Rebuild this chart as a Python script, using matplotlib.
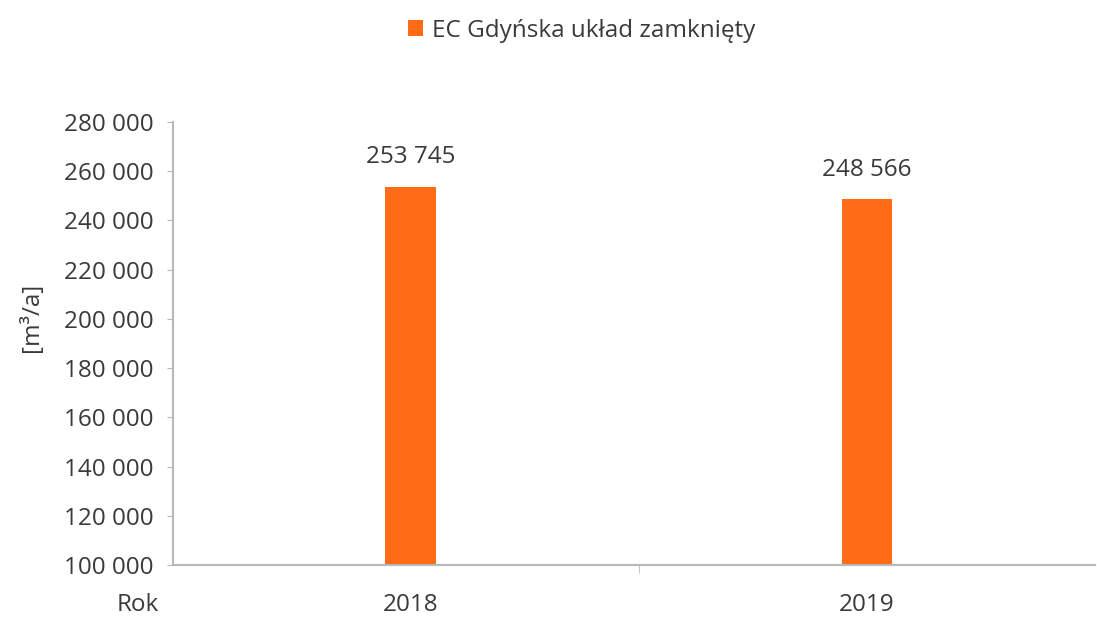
import matplotlib
matplotlib.use("Agg")
import matplotlib.pyplot as plt
from matplotlib.patches import Patch
from matplotlib.ticker import FuncFormatter

plt.rcParams['font.family'] = ['Open Sans', 'DejaVu Sans']

years = ["2018", "2019"]
values = [253745, 248566]
series_name = "EC Gdyńska układ zamknięty"
y_ticks = list(range(100000, 280001, 20000))

bar_color = "#FF6B17"
text_color = "#3a3a3a"
axis_color = "#b8b8b8"
fs = 17.5

fig = plt.figure(figsize=(10.97, 6.2), dpi=100)
ax = fig.add_axes([0.158, 0.0887, 0.84, 0.7145])

x = range(len(years))
bars = ax.bar(x, values, width=0.11, color=bar_color, zorder=2)

for xi, v in zip(x, values):
    ax.text(xi, v + 7000, f"{v:,}".replace(",", " "), ha="center", va="bottom",
            fontsize=fs, color=text_color)

ax.set_ylim(100000, 280000)
ax.set_xlim(-0.52, 1.5)
ax.set_yticks(y_ticks)
ax.yaxis.set_major_formatter(FuncFormatter(lambda v, p: f"{int(v):,}".replace(",", " ")))
ax.set_xticks(list(x))
ax.set_xticklabels(years)
ax.set_xticks([0.5], minor=True)

for s in ["top", "right"]:
    ax.spines[s].set_visible(False)
for s in ["left", "bottom"]:
    ax.spines[s].set_color(axis_color)
    ax.spines[s].set_linewidth(1.5)

ax.tick_params(axis="y", colors=axis_color, labelcolor=text_color, labelsize=fs,
               length=4, pad=10)
ax.tick_params(axis="x", which="major", length=0, labelcolor=text_color,
               labelsize=fs, pad=20)
ax.tick_params(axis="x", which="minor", length=6, direction="out", colors=axis_color)

ax.set_ylabel("[m³/a]", fontsize=fs, color=text_color)
ax.yaxis.set_label_coords(-0.14, 0.56)

fig.text(0.145, 1 - 605 / 620, "Rok", fontsize=fs, color=text_color, ha="right", va="center")

handles = [Patch(facecolor=bar_color, label=series_name)]
fig.legend(handles=handles, loc="upper center", bbox_to_anchor=(0.53, 1.005),
           frameon=False, fontsize=fs, handlelength=0.65, handleheight=0.65,
           handletextpad=0.35, labelcolor=text_color)

fig.savefig("out.png", dpi=100)
